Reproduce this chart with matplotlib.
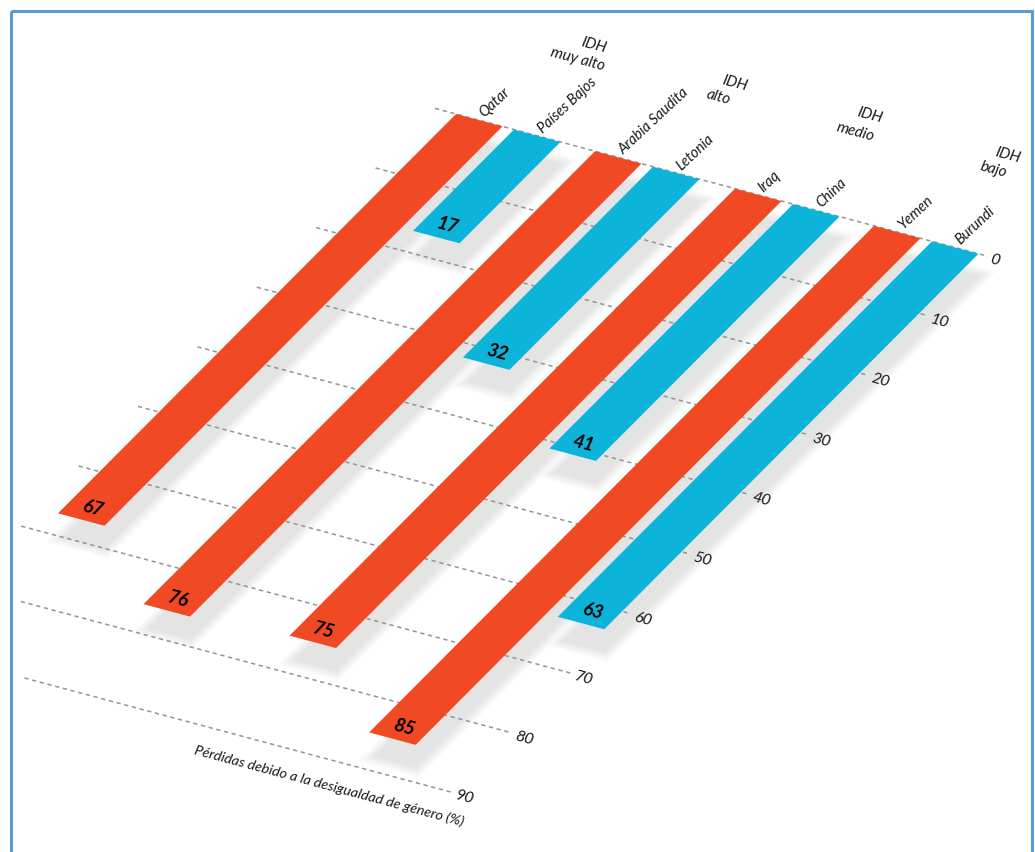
import matplotlib
matplotlib.use('Agg')
import matplotlib.pyplot as plt
from matplotlib.transforms import Affine2D
from matplotlib.patches import Rectangle

# Data
COUNTRIES = ['Qatar', 'Países Bajos', 'Arabia Saudita', 'Letonia', 'Iraq', 'China', 'Yemen', 'Burundi']
LOSSES = [67, 17, 76, 32, 75, 41, 85, 63]
BAR_COLOURS = ['#f04923', '#0db4d9'] * 4
GROUPS = ['muy alto', 'alto', 'medio', 'bajo']
TICKS = [0, 10, 20, 30, 40, 50, 60, 70, 80, 90]
AXIS_TITLE = 'Pérdidas debido a la desigualdad de género (%)'

# Layout, in pixels of the sheared plane
BAR_POS = [0, 58, 139, 197, 279, 337, 418, 476]
BAR_WIDTH = 46.5
GRID_START = [-21, -21, -21, -21, -21, -21, -21, -19, 40, 103]
GRID_END = 531
GROUP_POS = [[594, 45, 578, 59], [735, 83, 718, 97], [870, 115, 855, 132], [1008, 155, 993, 170]]

FONT = ['Lato', 'Open Sans', 'DejaVu Sans']
INK = '#1a1a1a'
SHADOW_LAYERS = [(18, '#fbfbfb'), (15, '#f7f7f7'), (12, '#f3f3f3'), (9, '#efefef'),
                 (6, '#ebebeb'), (3, '#e7e7e7'), (0, '#e4e4e4')]

fig = plt.figure(figsize=(10.35, 8.52), dpi=100, facecolor='white')
ax = fig.add_axes([0, 0, 1, 1])
ax.set_xlim(0, 1035)
ax.set_ylim(852, 0)
ax.axis('off')

# x along the bar baseline, y along the bars, 0 at the top of the Qatar bar
plane = Affine2D.from_values(1, 0.2675, -5.94, 5.96, 456, 114)
skew = plane + ax.transData
shadow_skew = plane + Affine2D().translate(6, 24) + ax.transData

# Soft shadow, widest and lightest first so neighbours do not add up
for lw, colour in SHADOW_LAYERS:
    ax.bar(BAR_POS, LOSSES, width=BAR_WIDTH - 6, align='edge', color=colour, edgecolor=colour,
           linewidth=lw * 0.72, transform=shadow_skew, zorder=1)

for tick, start in zip(TICKS, GRID_START):
    ax.plot([start, GRID_END], [tick, tick], color='#949494', lw=1.1, dashes=(2.8, 2.4), transform=skew, zorder=2)
    ax.text(GRID_END + 5, tick + 0.3, str(tick), transform=skew, rotation=-15, rotation_mode='anchor',
            ha='left', va='center', family=FONT, style='italic', fontsize=11.5, color=INK, zorder=5)

ax.bar(BAR_POS, LOSSES, width=BAR_WIDTH, align='edge', color=BAR_COLOURS, linewidth=0, transform=skew, zorder=3)

for pos, value, country in zip(BAR_POS, LOSSES, COUNTRIES):
    ax.text(pos + BAR_WIDTH / 2, value - 1.9, str(value), transform=skew, rotation=-15, rotation_mode='anchor',
            ha='center', va='center', family=FONT, style='italic', weight='bold', fontsize=13.5, color='black', zorder=5)
    ax.text(pos + BAR_WIDTH / 2 - 2, -0.8, country, transform=skew, rotation=43, rotation_mode='anchor',
            ha='left', va='center', family=FONT, style='italic', fontsize=10.5, color=INK, zorder=5)

for group, (x1, y1, x2, y2) in zip(GROUPS, GROUP_POS):
    ax.text(x1, y1, 'IDH', rotation=-15, ha='center', va='center', family=FONT, style='italic',
            fontsize=11, color=INK)
    ax.text(x2, y2, group, rotation=-15, ha='center', va='center', family=FONT, style='italic',
            fontsize=11, color=INK)

ax.text(329, 786, AXIS_TITLE, rotation=-15, ha='center', va='center', family=FONT, style='italic',
        fontsize=10.4, color=INK)

# Frame runs off the bottom of the picture
ax.add_patch(Rectangle((10.5, 10.5), 1021, 870, fill=False, edgecolor='#5b9bd5', linewidth=2.2, zorder=6))

fig.savefig('out.png', dpi=100, facecolor='white')
